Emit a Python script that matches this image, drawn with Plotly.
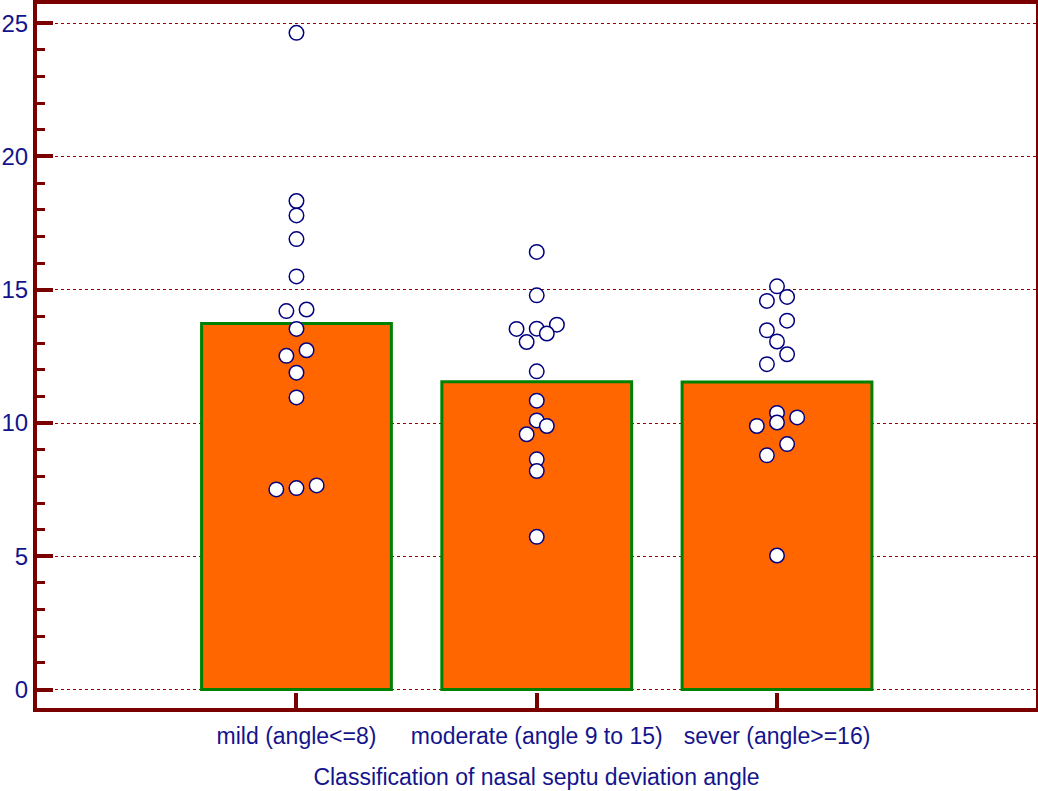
import plotly.graph_objects as go

# Groups on the x axis
categories = ["mild (angle<=8)", "moderate (angle 9 to 15)", "sever (angle>=16)"]

# Group means shown as bars
bar_means = [13.73, 11.55, 11.54]

# Individual observations per group
mild_values = [24.64, 18.33, 17.79, 16.90, 15.50, 14.20, 14.26, 13.53,
               12.52, 12.73, 11.89, 10.96, 7.51, 7.56, 7.66]
moderate_values = [16.42, 14.79, 13.53, 13.54, 13.69, 13.36, 13.04, 11.94,
                   10.84, 10.10, 9.89, 9.58, 8.64, 8.20, 5.73]
sever_values = [15.13, 14.58, 14.73, 13.84, 13.48, 13.06, 12.58, 12.21,
                10.38, 10.02, 9.89, 10.21, 9.21, 8.79, 5.03]

# Horizontal jitter slots used to separate overlapping points
mild_slots = [0, 0, 0, 0, 0, -1, 1, 0, -1, 1, 0, 0, -2, 0, 2]
moderate_slots = [0, 0, -2, 0, 2, 1, -1, 0, 0, 0, 1, -1, 0, 0, 0]
sever_slots = [0, -1, 1, 1, -1, 0, 1, -1, 0, 0, -2, 2, 1, -1, 0]

y_tick_values = [0, 5, 10, 15, 20, 25]

AXIS_COLOR = "#7a0000"
TEXT_COLOR = "#14148c"
SLOT_STEP = 0.042

fig = go.Figure()

fig.add_trace(go.Bar(
    x=list(range(len(categories))),
    y=bar_means,
    width=0.79,
    marker=dict(color="#ff6600", line=dict(color="#008000", width=3)),
    hoverinfo="y",
    showlegend=False,
))

groups = [(mild_values, mild_slots), (moderate_values, moderate_slots),
          (sever_values, sever_slots)]
for idx, (vals, slots) in enumerate(groups):
    fig.add_trace(go.Scatter(
        x=[idx + s * SLOT_STEP for s in slots],
        y=vals,
        mode="markers",
        marker=dict(symbol="circle", size=14.5, color="white",
                    line=dict(color="#000080", width=1.5)),
        showlegend=False,
    ))

fig.update_layout(
    width=1038,
    height=791,
    margin=dict(l=37, r=2, t=4, b=83),
    paper_bgcolor="white",
    plot_bgcolor="white",
    font=dict(family="Liberation Sans, Arial, sans-serif", color=TEXT_COLOR, size=23),
)

fig.update_xaxes(
    range=[-1.08, 3.078],
    tickvals=list(range(len(categories))),
    ticktext=categories,
    ticks="inside",
    ticklen=15,
    tickwidth=3.5,
    tickcolor=AXIS_COLOR,
    showline=True,
    linecolor=AXIS_COLOR,
    linewidth=4,
    mirror=True,
    showgrid=False,
    zeroline=False,
    automargin=False,
    tickfont=dict(size=23, color=TEXT_COLOR),
    ticklabelstandoff=4,
    title=dict(text="Classification of nasal septu deviation angle",
               font=dict(size=23, color=TEXT_COLOR), standoff=22),
)

fig.update_yaxes(
    range=[-0.69, 25.72],
    tickvals=y_tick_values,
    ticks="inside",
    ticklen=16,
    tickwidth=4,
    tickcolor=AXIS_COLOR,
    minor=dict(ticks="inside", ticklen=8, tickwidth=2.5, dtick=1,
               tickcolor=AXIS_COLOR, showgrid=False),
    showline=True,
    linecolor=AXIS_COLOR,
    linewidth=4,
    mirror=True,
    showgrid=True,
    gridcolor="#990000",
    gridwidth=1,
    griddash="dot",
    zeroline=False,
    automargin=False,
    tickfont=dict(family="Liberation Sans, Arial, sans-serif",
                  size=24, color=TEXT_COLOR),
    ticklabelstandoff=0,
)

fig.write_html("out.html")
